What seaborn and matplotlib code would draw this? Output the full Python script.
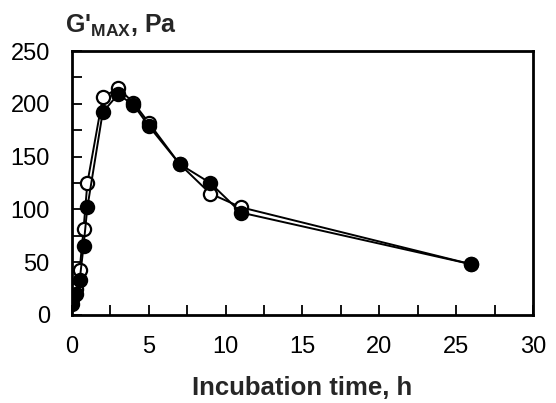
import pandas as pd
import matplotlib
matplotlib.use('Agg')
import matplotlib.pyplot as plt
import seaborn as sns
from matplotlib.ticker import MultipleLocator

# incubation time (h) and G'max (Pa)
time = [0, 0.25, 0.5, 0.75, 1, 2, 3, 4, 5, 7, 9, 11, 26]
g_open = [15, 25, 43, 81, 125, 206, 215, 201, 182, 143, 115, 102, 48]
g_filled = [10, 20, 33, 65, 102, 192, 209, 199, 179, 143, 125, 97, 48]

sns.set_theme(style='ticks')
plt.rcParams['font.family'] = ['Liberation Sans', 'DejaVu Sans']
plt.rcParams['mathtext.fontset'] = 'custom'
plt.rcParams['mathtext.rm'] = 'Liberation Sans'
plt.rcParams['mathtext.bf'] = 'Liberation Sans:bold'

df = pd.DataFrame({'time': time, 'open': g_open, 'filled': g_filled})

fig = plt.figure(figsize=(5.56, 4.03), dpi=100)
ax = fig.add_axes([0.1295, 0.2184, 0.829, 0.655])

sns.lineplot(data=df, x='time', y='open', ax=ax, color='black', linewidth=1.4,
             marker='o', markersize=9.5, markerfacecolor='white',
             markeredgecolor='black', markeredgewidth=1.6, sort=False)
sns.lineplot(data=df, x='time', y='filled', ax=ax, color='black', linewidth=1.4,
             marker='o', markersize=9.5, markerfacecolor='black',
             markeredgecolor='black', markeredgewidth=1.6, sort=False)

ax.set_xlim(0, 30)
ax.set_ylim(0, 250)
ax.xaxis.set_major_locator(MultipleLocator(5))
ax.xaxis.set_minor_locator(MultipleLocator(2.5))
ax.yaxis.set_major_locator(MultipleLocator(50))
ax.yaxis.set_minor_locator(MultipleLocator(25))
ax.tick_params(which='both', direction='in', length=7, width=1.3, color='black',
               labelsize=17, labelcolor='black')
ax.tick_params(axis='x', which='major', pad=15)
ax.tick_params(axis='y', which='major', pad=16)
ax.tick_params(which='minor', labelleft=False, labelbottom=False)
for s in ax.spines.values():
    s.set_linewidth(2)
    s.set_color('black')

ax.set_xlabel('Incubation time, h', fontsize=18.5, fontweight='bold', labelpad=13)
ax.set_ylabel('')
ax.text(-0.015, 1.045, r"G'$_{\mathbf{MAX}}$, Pa", transform=ax.transAxes,
        fontsize=18, fontweight='bold', ha='left', va='bottom')

fig.savefig('out.png', dpi=100)
